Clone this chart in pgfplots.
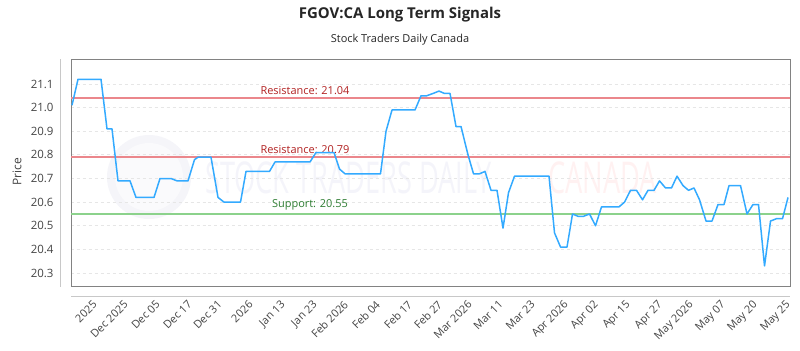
\documentclass[border=0pt]{standalone}
\usepackage{fontspec}
\setmainfont{Open Sans}
\usepackage{pgfplots}
\pgfplotsset{compat=1.18}
\definecolor{linec}{RGB}{51,170,255}
\definecolor{resc}{RGB}{235,135,140}
\definecolor{restxt}{RGB}{178,34,34}
\definecolor{supc}{RGB}{140,210,140}
\definecolor{suptxt}{RGB}{46,125,50}
\definecolor{framec}{RGB}{130,130,130}
\definecolor{outc}{RGB}{200,200,200}
\definecolor{gridc}{RGB}{230,230,230}
\definecolor{tickc}{RGB}{68,68,68}
\begin{document}
\begin{tikzpicture}[x=1bp,y=1bp]
\useasboundingbox (0,0) rectangle (800,-350);
\fill[white] (0,0) rectangle (800,-350);
% title
\node[font=\fontsize{15}{18}\selectfont\bfseries, text=black!85] at (400,-15) {FGOV:CA Long Term Signals};
\node[font=\fontsize{11}{13}\selectfont, text=black!85] at (400,-40) {Stock Traders Daily Canada};
\node[font=\fontsize{12}{14}\selectfont, text=tickc, rotate=90] at (17,-172) {Price};
% outer decorations
\draw[outc, line width=1bp] (60,-59) -- (60,-287);
\draw[outc, line width=1bp] (71,-296) -- (790,-296);
% watermark
\fill[blue!30!gray, opacity=0.06] (149,-177) circle (42);
\fill[white, opacity=0.5] (149,-177) circle (34);
\node[font=\fontsize{44}{44}\selectfont, text=blue!40!gray, opacity=0.06, xscale=0.62, transform shape, anchor=west] at (203,-178) {STOCK TRADERS DAILY};
\node[font=\fontsize{44}{44}\selectfont, text=red!60, opacity=0.09, xscale=0.62, transform shape, anchor=west] at (546,-178) {CANADA};
\begin{axis}[
  at={(71bp,-59bp)}, anchor=north west,
  scale only axis, width=719bp, height=227bp,
  xmin=71, xmax=790, ymin=20.245, ymax=21.2058,
  axis line style={framec, line width=1bp},
  ytick={20.3,20.4,20.5,20.6,20.7,20.8,20.9,21.0,21.1},
  yticklabel style={font=\fontsize{11.5}{13}\selectfont, text=tickc, /pgf/number format/.cd, fixed, fixed zerofill, precision=1, assume math mode=true},
  yticklabel shift=14bp,
  xtick={92,123,155,187,217,248,280,312,343,375,407,437,467,498,530,563,593,625,657,688,720,752,785},
  xticklabels={2025,Dec 2025,Dec 05,Dec 17,Dec 31,2026,Jan 13,Jan 23,Feb 2026,Feb 04,Feb 17,Feb 27,Mar 2026,Mar 11,Mar 23,Apr 2026,Apr 02,Apr 15,Apr 27,May 2026,May 07,May 20,May 25},
  xticklabel style={font=\fontsize{11}{12}\selectfont, text=tickc, rotate=45, anchor=north east, inner sep=1bp},
  xticklabel shift=12bp,
  major tick length=0pt,
  ymajorgrids, grid style={gridc, dashed, line width=0.8bp},
  clip=false,
]
\addplot[resc, line width=2bp, forget plot] coordinates {(71,21.04) (790,21.04)};
\addplot[resc, line width=2bp, forget plot] coordinates {(71,20.79) (790,20.79)};
\addplot[supc, line width=2bp, forget plot] coordinates {(71,20.55) (790,20.55)};
\node[font=\fontsize{11}{13}\selectfont, text=restxt, anchor=south] at (axis cs:305,21.04) {Resistance: 21.04};
\node[font=\fontsize{11}{13}\selectfont, text=restxt, anchor=south] at (axis cs:305,20.79) {Resistance: 20.79};
\node[font=\fontsize{11}{13}\selectfont, text=suptxt, anchor=south] at (axis cs:310,20.55) {Support: 20.55};
\addplot[linec, line width=1.5bp, line join=round] coordinates {
(72,21.01) (78,21.12) (101,21.12) (107,20.91) (112,20.91) (118,20.69) (130,20.69)
(136,20.62) (154,20.62) (160,20.70) (171,20.70) (177,20.69) (188,20.69) (194.5,20.78)
(198,20.79) (211,20.79) (218,20.62) (224,20.60) (240.5,20.60) (246,20.73) (269.5,20.73)
(275,20.77) (310,20.77) (316,20.81) (334,20.81) (339.5,20.74) (345,20.72) (380.5,20.72)
(386,20.90) (392,20.99) (415,20.99) (421,21.05) (426.5,21.05) (433,21.06) (439,21.07)
(444.5,21.06) (450,21.06) (456,20.92) (461,20.92) (468,20.80) (473.5,20.72) (479.5,20.72)
(485,20.73) (491,20.65) (497,20.65) (503,20.49) (508.5,20.64) (514.5,20.71) (549,20.71)
(554.5,20.47) (560.5,20.41) (567,20.41) (572.5,20.55) (578,20.54) (583.5,20.54) (589.5,20.55)
(595.5,20.50) (601.5,20.58) (619,20.58) (624.5,20.60) (630.5,20.65) (636.5,20.65) (642.5,20.61)
(648,20.65) (654,20.65) (659.5,20.69) (665.5,20.66) (671.5,20.66) (677,20.71) (683,20.67)
(688.5,20.65) (694,20.66) (699.5,20.61) (706,20.52) (712,20.52) (718,20.59) (724,20.59)
(729,20.67) (740.5,20.67) (747,20.55) (753,20.59) (758.5,20.59) (764.5,20.33) (770.5,20.52)
(776.5,20.53) (782.5,20.53) (788,20.62)
};
\end{axis}
\end{tikzpicture}
\end{document}
